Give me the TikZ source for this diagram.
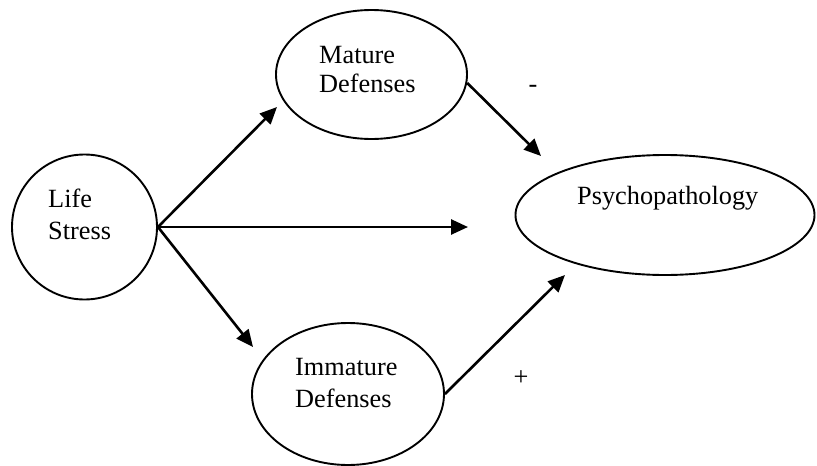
\documentclass[tikz,border=0pt]{standalone}
\usepackage{fontspec}
\setmainfont{Liberation Serif}
\usetikzlibrary{shapes.geometric,arrows.meta}
\begin{document}
\begin{tikzpicture}[x=1pt,y=-1pt,
  oval/.style={draw=black,line width=1.9pt,ellipse,inner sep=0pt},
  lbl/.style={anchor=base west,inner sep=0pt,font=\fontsize{26.3}{31}\selectfont},
  sign/.style={inner sep=0pt,font=\fontsize{26.3}{31}\selectfont},
  link/.style={line width=2.6pt,-{Triangle[length=17pt,width=15pt]}}]
\useasboundingbox (0,0) rectangle (817,466);
\node[oval,minimum width=145pt,minimum height=145pt] (ls) at (84.5,227) {};
\node[oval,minimum width=191pt,minimum height=129pt] (md) at (371.5,74.5) {};
\node[oval,minimum width=192pt,minimum height=142pt] (imd) at (348,394) {};
\node[oval,minimum width=299pt,minimum height=120pt] (ps) at (665,215) {};
\node[lbl] (t1) at (48,207) {Life};
\node[lbl] (t2) at (48,239) {Stress};
\node[lbl] (t3) at (319,63) {Mature};
\node[lbl] (t4) at (319,92) {Defenses};
\node[lbl] (t5) at (295,375) {Immature};
\node[lbl] (t6) at (295,407) {Defenses};
\node[lbl] (t7) at (577,204) {Psychopathology};
\node[sign] (minus) at (533,89) {-};
\node[sign] (plus) at (521,378) {+};
\coordinate (a1) at (277,107);
\coordinate (a2) at (468,227);
\coordinate (a3) at (253,347);
\coordinate (a4) at (541,156);
\coordinate (a5) at (565,275);
\draw[link] (ls.east) -- (a1);
\draw[link] (ls.east) -- (a2);
\draw[link] (ls.east) -- (a3);
\draw[link] (md.-5) -- (a4);
\draw[link] (imd.east) -- (a5);
\end{tikzpicture}
\end{document}
